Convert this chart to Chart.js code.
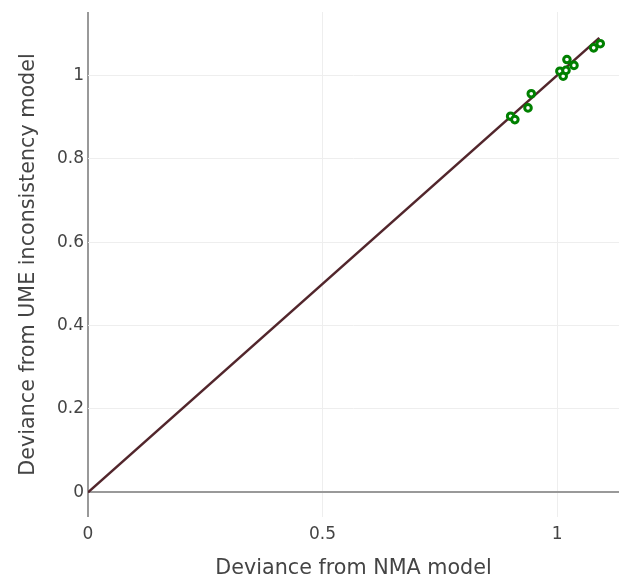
<!DOCTYPE html>
<html>
<head>
<meta charset="utf-8">
<script src="https://cdn.jsdelivr.net/npm/chart.js@4.4.0/dist/chart.umd.min.js"></script>
<style>
  html, body { margin: 0; padding: 0; background: #fff; }
</style>
</head>
<body>
<canvas id="devianceChart" width="619" height="578"></canvas>
<script>
// deviance per data point, NMA model (x) vs UME inconsistency model (y)
var nmaDeviance = [0.901, 0.910, 0.938, 0.945, 1.006, 1.013, 1.019, 1.021, 1.036, 1.078, 1.092];
var umeDeviance = [0.902, 0.894, 0.922, 0.956, 1.010, 0.998, 1.012, 1.038, 1.024, 1.066, 1.076];

// line of equality
var refLineX = [0, 1.09];
var refLineY = [0, 1.09];

var xTicks = [0, 0.5, 1];
var yTicks = [0, 0.2, 0.4, 0.6, 0.8, 1];

Chart.defaults.font.family = "'DejaVu Sans', Verdana, sans-serif";
Chart.defaults.color = '#444';

var points = nmaDeviance.map(function (x, i) { return { x: x, y: umeDeviance[i] }; });
var line = refLineX.map(function (x, i) { return { x: x, y: refLineY[i] }; });

function fmt(v) { return String(+v.toFixed(2)); }
function gridColor(c) { return c.tick && c.tick.value === 0 ? '#999' : '#eee'; }
function gridWidth(c) { return c.tick && c.tick.value === 0 ? 2 : 1; }

var ctx = document.getElementById('devianceChart').getContext('2d');
new Chart(ctx, {
  type: 'scatter',
  data: {
    datasets: [{
      data: points,
      pointRadius: 3.3,
      pointBorderWidth: 3,
      pointBorderColor: 'rgb(0,128,0)',
      pointBackgroundColor: '#fff',
      showLine: false
    }, {
      data: line,
      showLine: true,
      borderColor: '#52262c',
      borderWidth: 2.5,
      pointRadius: 0
    }]
  },
  options: {
    responsive: false,
    animation: false,
    layout: { autoPadding: false, padding: { top: 12, right: 0, left: 0, bottom: 0 } },
    plugins: { legend: { display: false }, tooltip: { enabled: false } },
    scales: {
      x: {
        type: 'linear',
        min: 0,
        max: 1.132,
        afterBuildTicks: function (axis) { axis.ticks = xTicks.map(function (v) { return { value: v }; }); },
        afterFit: function (axis) { axis.height = 61; axis.paddingLeft = 0; axis.paddingRight = 0; },
        border: { display: false },
        grid: { drawTicks: false, color: gridColor, lineWidth: gridWidth },
        ticks: { padding: 7, font: { size: 17 }, color: '#444', callback: fmt },
        title: { display: true, text: 'Deviance from NMA model', font: { size: 20.7 }, color: '#444', padding: { top: 2, bottom: -3 } }
      },
      y: {
        type: 'linear',
        min: -0.059,
        max: 1.152,
        afterBuildTicks: function (axis) { axis.ticks = yTicks.map(function (v) { return { value: v }; }); },
        afterFit: function (axis) { axis.width = 88; axis.paddingTop = 0; axis.paddingBottom = 0; },
        border: { display: false },
        grid: { drawTicks: false, color: gridColor, lineWidth: gridWidth },
        ticks: { padding: 4, font: { size: 17 }, color: '#444', callback: fmt },
        title: { display: true, text: 'Deviance from UME inconsistency model', font: { size: 20.7 }, color: '#444', padding: { top: 16, bottom: 0 } }
      }
    }
  }
});
</script>
</body>
</html>
